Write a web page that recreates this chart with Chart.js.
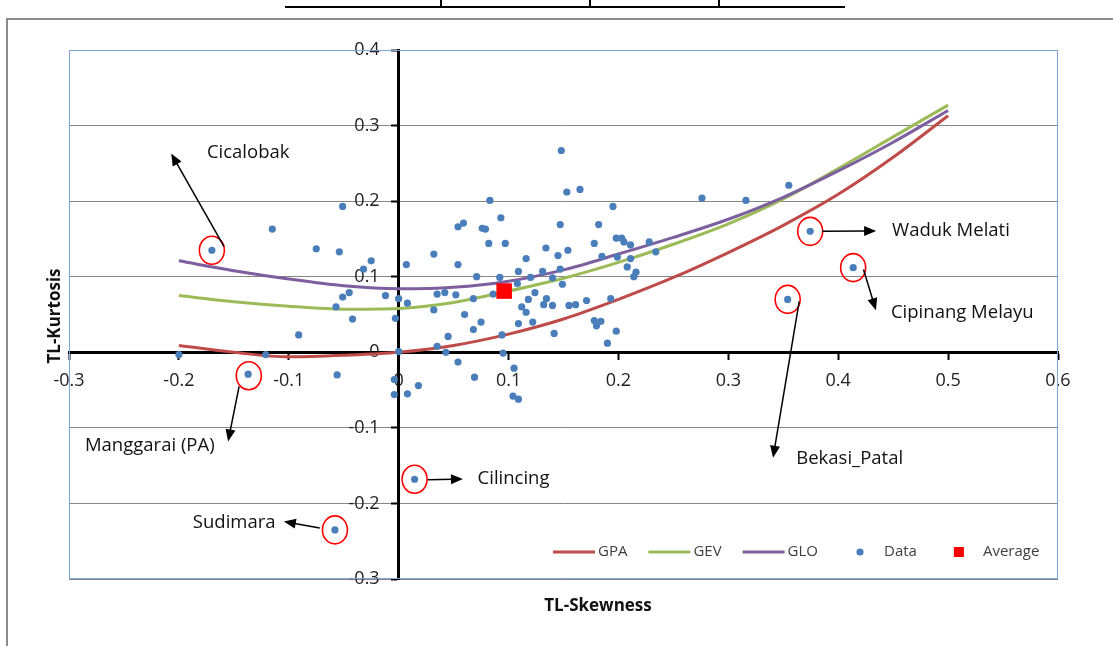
<!DOCTYPE html>
<html>
<head>
<meta charset="utf-8">
<script src="https://cdn.jsdelivr.net/npm/chart.js@4.4.1/dist/chart.umd.min.js"></script>
<style>
  html, body { margin: 0; padding: 0; background: #fff; }
  #wrap { width: 1113px; height: 646px; }
</style>
</head>
<body>
<div id="wrap"><canvas id="lmr" width="1113" height="646"></canvas></div>
<script>
// theoretical TL-moment ratio curves, every 0.05 of skewness
const curveSkew = [-0.2, -0.15, -0.1, -0.05, 0, 0.05, 0.1, 0.15, 0.2, 0.25, 0.3, 0.35, 0.4, 0.45, 0.5];
const gpaKurt = [0.009, 0.000, -0.006, -0.004, 0.000, 0.009, 0.024, 0.044, 0.070, 0.099, 0.132, 0.168, 0.209, 0.258, 0.313];
const gevKurt = [0.075, 0.067, 0.061, 0.057, 0.058, 0.066, 0.081, 0.098, 0.119, 0.143, 0.170, 0.203, 0.243, 0.285, 0.327];
const gloKurt = [0.121, 0.108, 0.097, 0.088, 0.084, 0.086, 0.094, 0.109, 0.130, 0.152, 0.176, 0.205, 0.240, 0.278, 0.320];

// sample TL-skewness / TL-kurtosis of every station
const siteSkew = [
  -0.200, -0.170, -0.137, -0.121, -0.115, -0.091, -0.075, -0.058, -0.057, -0.056,
  -0.054, -0.051, -0.051, -0.045, -0.042, -0.032, -0.025, -0.012, -0.004, -0.004,
  -0.003, 0.000, 0.000, 0.007, 0.008, 0.008, 0.0145, 0.018, 0.032, 0.032,
  0.035, 0.035, 0.042, 0.043, 0.045, 0.052, 0.054, 0.054, 0.054, 0.059,
  0.060, 0.068, 0.068, 0.069, 0.071, 0.075, 0.076, 0.079, 0.082, 0.083,
  0.086, 0.092, 0.093, 0.094, 0.095, 0.097, 0.104, 0.105, 0.108, 0.109,
  0.109, 0.109, 0.112, 0.116, 0.116, 0.118, 0.120, 0.122, 0.124, 0.131,
  0.132, 0.134, 0.1345, 0.140, 0.140, 0.1415, 0.145, 0.147, 0.147, 0.148,
  0.149, 0.153, 0.154, 0.155, 0.161, 0.165, 0.171, 0.178, 0.178, 0.180,
  0.182, 0.184, 0.185, 0.190, 0.193, 0.195, 0.198, 0.198, 0.199, 0.203,
  0.205, 0.208, 0.211, 0.211, 0.214, 0.216, 0.228, 0.234, 0.276, 0.316,
  0.354, 0.355, 0.3745, 0.4136
];
const siteKurt = [
  -0.003, 0.135, -0.029, -0.003, 0.163, 0.023, 0.137, -0.235, 0.060, -0.030,
  0.133, 0.193, 0.073, 0.079, 0.044, 0.110, 0.121, 0.075, -0.036, -0.056,
  0.045, 0.071, 0.001, 0.116, 0.065, -0.055, -0.168, -0.044, 0.130, 0.056,
  0.077, 0.008, 0.079, 0.000, 0.021, 0.076, 0.116, 0.166, -0.013, 0.171,
  0.050, 0.071, 0.030, -0.033, 0.100, 0.040, 0.164, 0.163, 0.144, 0.201,
  0.077, 0.099, 0.178, 0.023, -0.001, 0.144, -0.058, -0.021, 0.091, 0.107,
  0.038, -0.062, 0.060, 0.124, 0.053, 0.070, 0.099, 0.040, 0.079, 0.107,
  0.063, 0.138, 0.071, 0.062, 0.0985, 0.025, 0.128, 0.169, 0.110, 0.267,
  0.090, 0.212, 0.135, 0.062, 0.063, 0.2155, 0.0685, 0.144, 0.042, 0.035,
  0.169, 0.041, 0.127, 0.012, 0.071, 0.193, 0.151, 0.028, 0.126, 0.151,
  0.146, 0.113, 0.142, 0.124, 0.100, 0.106, 0.146, 0.133, 0.204, 0.201,
  0.070, 0.221, 0.160, 0.112
];

// regional average
const avgSkew = [0.096];
const avgKurt = [0.081];

const xTicks = [-0.3, -0.2, -0.1, 0, 0.1, 0.2, 0.3, 0.4, 0.5, 0.6];
const xTickLabels = ['-0.3', '-0.2', '-0.1', '0', '0.1', '0.2', '0.3', '0.4', '0.5', '0.6'];
const yTicks = [-0.3, -0.2, -0.1, 0, 0.1, 0.2, 0.3, 0.4];
const yTickLabels = ['-0.3', '-0.2', '-0.1', '0', '0.1', '0.2', '0.3', '0.4'];

// circled outlier stations: point, arrow (from -> to) and label anchor, all in axis units
const callouts = [
  { name: 'Cicalobak',       at: [-0.170, 0.135],  from: [-0.159, 0.140],  to: [-0.207, 0.263],  text: [-0.1745, 0.2645] },
  { name: 'Waduk Melati',    at: [0.3745, 0.160],  from: [0.3855, 0.160],  to: [0.4345, 0.1605], text: [0.449, 0.161] },
  { name: 'Cipinang Melayu', at: [0.4136, 0.112],  from: [0.423, 0.1095],  to: [0.4343, 0.0556], text: [0.448, 0.0526] },
  { name: 'Bekasi_Patal',    at: [0.354, 0.070],   from: [0.3645, 0.0675], to: [0.3407, -0.1395], text: [0.3618, -0.1408] },
  { name: 'Manggarai (PA)',  at: [-0.1364, -0.031], from: [-0.1452, -0.045], to: [-0.1552, -0.1179], text: [-0.2855, -0.1236] },
  { name: 'Cilincing',       at: [0.0145, -0.168], from: [0.0264, -0.1686], to: [0.0585, -0.1677], text: [0.0718, -0.1673] },
  { name: 'Sudimara',        at: [-0.058, -0.235], from: [-0.0718, -0.2326], to: [-0.1045, -0.2238], text: [-0.1873, -0.2256] }
];

const FONT = '"Open Sans", "DejaVu Sans", sans-serif';

function drawArrow(ctx, x1, y1, x2, y2) {
  const a = Math.atan2(y2 - y1, x2 - x1);
  const len = 12, half = 5;
  ctx.beginPath();
  ctx.moveTo(x1, y1);
  ctx.lineTo(x2 - len * 0.8 * Math.cos(a), y2 - len * 0.8 * Math.sin(a));
  ctx.stroke();
  ctx.beginPath();
  ctx.moveTo(x2, y2);
  ctx.lineTo(x2 - len * Math.cos(a) + half * Math.sin(a), y2 - len * Math.sin(a) - half * Math.cos(a));
  ctx.lineTo(x2 - len * Math.cos(a) - half * Math.sin(a), y2 - len * Math.sin(a) + half * Math.cos(a));
  ctx.closePath();
  ctx.fill();
}

const decorations = {
  id: 'decorations',
  beforeDraw(chart) {
    // y labels of an axis crossing at x = 0 sit right on the axis line: move them left of the ticks
    chart.scales.y.getLabelItems().forEach(it => {
      if (!it.shifted) { it.options.translation[0] -= 19; it.shifted = true; }
    });

    const ctx = chart.ctx;
    ctx.save();
    // piece of the table above the figure
    ctx.strokeStyle = '#000';
    ctx.lineWidth = 2;
    ctx.beginPath();
    ctx.moveTo(285, 7); ctx.lineTo(845, 7);
    [441, 590, 719].forEach(x => { ctx.moveTo(x, 0); ctx.lineTo(x, 7); });
    ctx.stroke();
    // outer chart frame
    ctx.strokeStyle = '#8c8c8c';
    ctx.lineWidth = 2;
    ctx.beginPath();
    ctx.moveTo(7, 646); ctx.lineTo(7, 19); ctx.lineTo(1113, 19);
    ctx.stroke();
    ctx.restore();
  },
  afterDraw(chart) {
    const ctx = chart.ctx;
    const {left, top, right, bottom} = chart.chartArea;
    const sx = chart.scales.x, sy = chart.scales.y;
    const P = (v) => [sx.getPixelForValue(v[0]), sy.getPixelForValue(v[1])];
    ctx.save();

    // plot area border
    ctx.strokeStyle = '#7ea6d8';
    ctx.lineWidth = 1;
    ctx.strokeRect(left + 0.5, top + 0.5, right - left - 1, bottom - top - 1);

    // callouts
    callouts.forEach(c => {
      const [cx, cy] = P(c.at);
      ctx.strokeStyle = '#ff0000';
      ctx.lineWidth = 1.6;
      ctx.beginPath();
      ctx.ellipse(cx, cy, 12.5, 14, 0, 0, Math.PI * 2);
      ctx.stroke();
      const [x1, y1] = P(c.from), [x2, y2] = P(c.to);
      ctx.strokeStyle = '#000';
      ctx.fillStyle = '#000';
      ctx.lineWidth = 1.5;
      drawArrow(ctx, x1, y1, x2, y2);
      const [tx, ty] = P(c.text);
      ctx.font = '18.5px ' + FONT;
      ctx.textAlign = 'left';
      ctx.textBaseline = 'middle';
      ctx.fillStyle = '#111';
      ctx.fillText(c.name, tx, ty);
    });

    // legend inside the plot area
    const ly = bottom - 27;
    let lx = left + 484;
    ctx.font = '15px ' + FONT;
    ctx.textBaseline = 'middle';
    ctx.textAlign = 'left';
    chart.data.datasets.forEach(ds => {
      const sym = 42;
      if (ds.showLine) {
        ctx.strokeStyle = ds.borderColor;
        ctx.lineWidth = 3;
        ctx.beginPath();
        ctx.moveTo(lx, ly); ctx.lineTo(lx + sym, ly);
        ctx.stroke();
      } else if (ds.pointStyle === 'rect') {
        ctx.fillStyle = ds.backgroundColor;
        ctx.fillRect(lx + sym / 2 - 5, ly - 5, 10, 10);
      } else {
        ctx.fillStyle = ds.backgroundColor;
        ctx.beginPath();
        ctx.arc(lx + sym / 2, ly, 3.6, 0, Math.PI * 2);
        ctx.fill();
      }
      ctx.fillStyle = '#404040';
      ctx.fillText(ds.label, lx + sym + 3, ly);
      lx += sym + 3 + ctx.measureText(ds.label).width + 21;
    });

    // axis titles
    ctx.fillStyle = '#111';
    ctx.font = 'bold 17px ' + FONT;
    ctx.textAlign = 'center';
    ctx.textBaseline = 'middle';
    ctx.fillText('TL-Skewness', 598, 606);
    ctx.translate(55, 316);
    ctx.rotate(-Math.PI / 2);
    ctx.fillText('TL-Kurtosis', 0, 0);
    ctx.restore();
  }
};

const tickFont = { family: FONT, size: 18 };

new Chart(document.getElementById('lmr').getContext('2d'), {
  type: 'scatter',
  data: {
    datasets: [
      {
        label: 'GPA',
        data: curveSkew.map((x, i) => ({ x: x, y: gpaKurt[i] })),
        showLine: true, borderColor: '#be4b48', borderWidth: 3, pointRadius: 0,
        cubicInterpolationMode: 'monotone', fill: false, order: 4
      },
      {
        label: 'GEV',
        data: curveSkew.map((x, i) => ({ x: x, y: gevKurt[i] })),
        showLine: true, borderColor: '#9bbb59', borderWidth: 3, pointRadius: 0,
        cubicInterpolationMode: 'monotone', fill: false, order: 3
      },
      {
        label: 'GLO',
        data: curveSkew.map((x, i) => ({ x: x, y: gloKurt[i] })),
        showLine: true, borderColor: '#7d5fa0', borderWidth: 3, pointRadius: 0,
        cubicInterpolationMode: 'monotone', fill: false, order: 2
      },
      {
        label: 'Data',
        data: siteSkew.map((x, i) => ({ x: x, y: siteKurt[i] })),
        backgroundColor: '#4a7ebb', borderWidth: 0, pointRadius: 3.6, order: 1
      },
      {
        label: 'Average',
        data: avgSkew.map((x, i) => ({ x: x, y: avgKurt[i] })),
        backgroundColor: '#ff0000', borderWidth: 0, pointStyle: 'rect', pointRadius: 11, order: 0
      }
    ]
  },
  options: {
    responsive: false,
    animation: false,
    events: [],
    layout: { padding: { left: 69, top: 50, right: 55, bottom: 67 } },
    plugins: {
      legend: { display: false },
      tooltip: { enabled: false }
    },
    scales: {
      x: {
        type: 'linear',
        min: -0.3, max: 0.6,
        position: { y: 0 },
        afterBuildTicks: axis => { axis.ticks = xTicks.map(v => ({ value: v })); },
        ticks: {
          callback: (v, i) => xTickLabels[i],
          font: tickFont, color: '#222', padding: 12, maxRotation: 0, autoSkip: false
        },
        grid: { drawOnChartArea: false, tickLength: 6, tickColor: '#000', tickWidth: 2 },
        border: { color: '#000', width: 3 }
      },
      y: {
        type: 'linear',
        min: -0.3, max: 0.4,
        position: { x: 0 },
        afterBuildTicks: axis => { axis.ticks = yTicks.map(v => ({ value: v })); },
        ticks: {
          callback: (v, i) => yTickLabels[i],
          font: tickFont, color: '#222', padding: 13, autoSkip: false
        },
        grid: { color: '#868686', lineWidth: 1, tickLength: 6, tickColor: '#000', tickWidth: 2 },
        border: { color: '#000', width: 3 }
      }
    }
  },
  plugins: [decorations]
});
</script>
</body>
</html>
